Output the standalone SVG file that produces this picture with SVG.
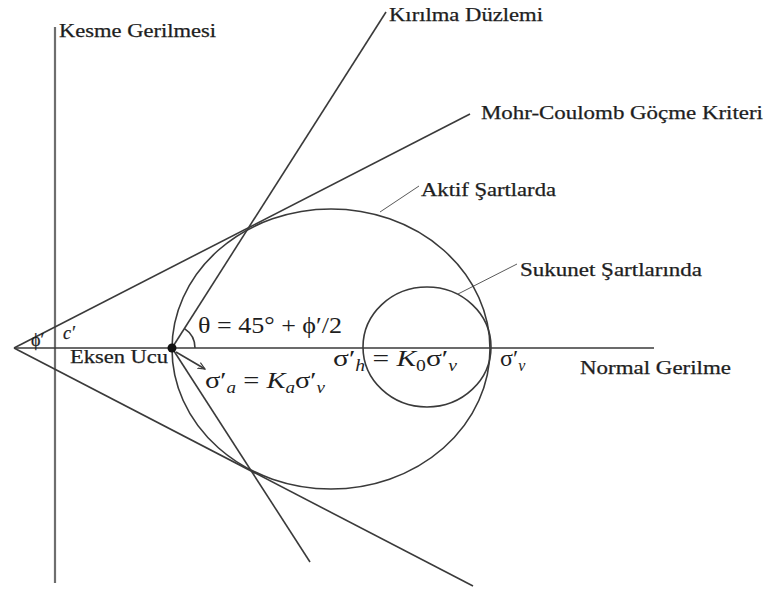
<svg xmlns="http://www.w3.org/2000/svg" width="767" height="590" viewBox="0 0 767 590">
<defs>
<style>
.ax{stroke:#6e6e6e;stroke-width:2.2;fill:none}
.ln{stroke:#3a3a3a;stroke-width:1.6;fill:none}
.ld{stroke:#5a5a5a;stroke-width:1;fill:none}
.lb{font-family:"Liberation Serif",serif;font-size:18px;fill:#1e1e1e;stroke:#1e1e1e;stroke-width:0.25}
.mt{font-family:"Liberation Serif",serif;font-size:24px;fill:#1e1e1e}
.it{font-style:italic}
.sb{font-size:16px;font-style:italic}
</style>
<marker id="ah" viewBox="0 0 10 10" refX="9" refY="5" markerWidth="8" markerHeight="8" orient="auto" markerUnits="userSpaceOnUse">
<path d="M0,1 L9,5 L0,9" fill="none" stroke="#3a3a3a" stroke-width="1.4"/>
</marker>
</defs>
<rect width="767" height="590" fill="#fff"/>
<g id="connectors">
<line class="ax" x1="55" y1="27" x2="55" y2="583"/>
<line class="ln" x1="14" y1="348" x2="654" y2="348"/>
<line class="ln" x1="14" y1="348" x2="470" y2="114"/>
<line class="ln" x1="14" y1="348" x2="473" y2="586"/>
<line class="ln" x1="172" y1="348" x2="386" y2="12"/>
<line class="ln" x1="172" y1="348" x2="310" y2="562"/>
<path class="ln" d="M195,348 A23,23 0 0 0 184.5,328.6"/>
<line class="ln" x1="176" y1="352" x2="205" y2="369" marker-end="url(#ah)"/>
<line class="ld" x1="380" y1="212" x2="419" y2="186"/>
<line class="ld" x1="458" y1="294" x2="517" y2="264"/>
</g>
<g id="aktif-circle"><ellipse class="ln" cx="331" cy="349" rx="159" ry="140"/></g>
<g id="sukunet-circle"><ellipse class="ln" cx="427" cy="347" rx="64" ry="60"/></g>
<g id="eksen-ucu">
<circle cx="172" cy="348" r="4.5" fill="#111"/>
<text class="lb" x="70" y="363" textLength="98" lengthAdjust="spacingAndGlyphs">Eksen Ucu</text>
</g>
<g id="labels">
<text class="lb" x="59" y="37" textLength="157" lengthAdjust="spacingAndGlyphs">Kesme Gerilmesi</text>
<text class="lb" x="389" y="21" textLength="154" lengthAdjust="spacingAndGlyphs">Kırılma Düzlemi</text>
<text class="lb" x="481" y="119" textLength="282" lengthAdjust="spacingAndGlyphs">Mohr-Coulomb Göçme Kriteri</text>
<text class="lb" x="421" y="196" textLength="135" lengthAdjust="spacingAndGlyphs">Aktif Şartlarda</text>
<text class="lb" x="520" y="276" textLength="182" lengthAdjust="spacingAndGlyphs">Sukunet Şartlarında</text>
<text class="lb" x="580" y="374" textLength="151" lengthAdjust="spacingAndGlyphs">Normal Gerilme</text>
<text class="lb it" x="63" y="339" font-size="18">c′</text>
<text class="lb" x="31" y="346" font-size="12">ϕ′</text>
</g>
<g id="formulas">
<text class="mt" x="198" y="333" font-size="21" textLength="144" lengthAdjust="spacingAndGlyphs">θ = 45° + ϕ′/2</text>
<text class="mt" x="205" y="388" textLength="120" lengthAdjust="spacingAndGlyphs">σ′<tspan class="sb" dy="5">a</tspan><tspan dy="-5"> = </tspan><tspan class="it">K</tspan><tspan class="sb" dy="5">a</tspan><tspan dy="-5">σ′</tspan><tspan class="sb" dy="5">v</tspan></text>
<text class="mt" x="333" y="366" textLength="124" lengthAdjust="spacingAndGlyphs">σ′<tspan class="sb" dy="5">h</tspan><tspan dy="-5"> = </tspan><tspan class="it">K</tspan><tspan font-size="16" dy="5">0</tspan><tspan dy="-5">σ′</tspan><tspan class="sb" dy="5">v</tspan></text>
<text class="mt" x="500" y="366">σ′<tspan class="sb" dy="5">v</tspan></text>
</g>
</svg>
